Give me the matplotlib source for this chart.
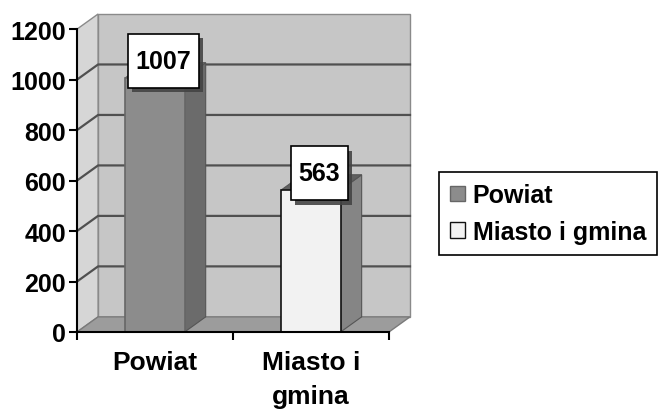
import matplotlib.pyplot as plt
import matplotlib.patheffects as pe
from matplotlib.patches import Polygon, Patch
from matplotlib.path import Path

# data
categories = ['Powiat', 'Miasto i\ngmina']
legend_labels = ['Powiat', 'Miasto i gmina']
values = [1007, 563]
y_ticks = [0, 200, 400, 600, 800, 1000, 1200]

front_colors = ['#8c8c8c', '#f2f2f2']
front_edges = ['#666666', '#111111']
side_colors = ['#6b6b6b', '#858585']
top_colors = ['#7a7a7a', '#606060']

DX, DY = 0.135, 60   # depth of the fake 3d box, in data units
HALF = 0.19          # half bar width

plt.rcParams['font.family'] = ['Liberation Sans', 'DejaVu Sans']
plt.rcParams['font.weight'] = 'bold'


def label_box(x0, y0, width, height, mutation_size):
    # square box, more padding top/bottom than left/right
    px, py = 0.3 * mutation_size, 0.6 * mutation_size
    verts = [(x0 - px, y0 - py), (x0 + width + px, y0 - py),
             (x0 + width + px, y0 + height + py), (x0 - px, y0 + height + py),
             (x0 - px, y0 - py)]
    return Path(verts, closed=True)


def main():
    fig = plt.figure(figsize=(6.61, 4.10), dpi=100)
    ax = fig.add_axes([77 / 661, 77 / 410, 333 / 661, 318 / 410])
    ax.set_xlim(-0.5, 1.5 + DX)
    ax.set_ylim(0, 1200 + DY)
    ax.patch.set_visible(False)
    ax.set_axisbelow(False)

    def poly(pts, fc, ec='none', lw=0, z=1):
        ax.add_patch(Polygon(pts, closed=True, facecolor=fc, edgecolor=ec,
                             linewidth=lw, zorder=z, clip_on=False))

    x0, x1 = -0.5, 1.5
    top = y_ticks[-1]
    # walls and floor
    poly([(x0 + DX, DY), (x1 + DX, DY), (x1 + DX, top + DY), (x0 + DX, top + DY)],
         '#c6c6c6', '#8a8a8a', 1)
    poly([(x0, 0), (x0 + DX, DY), (x0 + DX, top + DY), (x0, top)],
         '#d6d6d6', '#8a8a8a', 1)
    poly([(x0, 0), (x1, 0), (x1 + DX, DY), (x0 + DX, DY)],
         '#9c9c9c', '#7a7a7a', 1)
    for v in y_ticks[1:-1]:
        ax.plot([x0, x0 + DX, x1 + DX], [v, v + DY, v + DY],
                color='#505050', lw=1.6, zorder=2, clip_on=False)

    # bars
    for i, v in enumerate(values):
        l, r = i - HALF, i + HALF
        poly([(r, 0), (r + DX, DY), (r + DX, v + DY), (r, v)],
             side_colors[i], '#555555', 0.8, 3)
        poly([(l, v), (r, v), (r + DX, v + DY), (l + DX, v + DY)],
             top_colors[i], '#555555', 0.8, 3)
        poly([(l, 0), (r, 0), (r, v), (l, v)],
             front_colors[i], front_edges[i], 1.2, 4)

        ann = ax.annotate(f'{v}', xy=(i + DX / 2, v + DY / 2), xytext=(-2, 9),
                          textcoords='offset pixels', ha='center', va='center',
                          fontsize=18, fontweight='bold', zorder=6,
                          bbox=dict(boxstyle=label_box, fc='white', ec='black', lw=1.2))
        ann.get_bbox_patch().set_path_effects(
            [pe.SimplePatchShadow(offset=(3, -3), shadow_rgbFace='#444444', alpha=0.9),
             pe.Normal()])

    # axes
    for s in ['top', 'right']:
        ax.spines[s].set_visible(False)
    for s in ['left', 'bottom']:
        ax.spines[s].set_linewidth(1.5)
        ax.spines[s].set_zorder(10)
    ax.spines['left'].set_bounds(0, top)
    ax.spines['bottom'].set_bounds(x0, x1)

    ax.set_yticks(y_ticks)
    ax.tick_params(axis='y', length=6, width=1.5, pad=2, labelsize=18)
    ax.set_xticks([x0, 0.5, x1])
    ax.set_xticklabels([])
    ax.set_xticks(range(len(categories)), minor=True)
    ax.set_xticklabels(categories, minor=True)
    ax.tick_params(axis='x', which='major', length=6, width=1.5)
    ax.tick_params(axis='x', which='minor', length=0, pad=13, labelsize=19)
    for t in ax.get_xticklabels(minor=True):
        t.set_linespacing(1.5)

    handles = [Patch(facecolor=front_colors[i], edgecolor=front_edges[i])
               for i in range(len(values))]
    leg = fig.legend(handles, legend_labels, loc='upper left',
                     bbox_to_anchor=(439 / 661, 1 - 173 / 410),
                     prop={'weight': 'bold', 'size': 18}, frameon=True,
                     fancybox=False, edgecolor='black', framealpha=1,
                     handlelength=0.6, handleheight=0.6, handletextpad=0.3,
                     borderpad=0.45, labelspacing=0.5, borderaxespad=0)
    leg.get_frame().set_linewidth(1.2)

    fig.savefig('out.png', dpi=100)


if __name__ == "__main__":
    main()
